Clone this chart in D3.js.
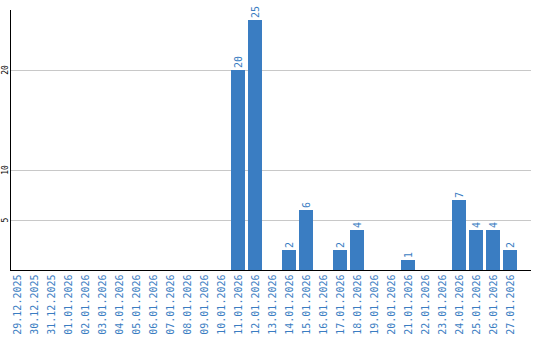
<!DOCTYPE html>
<html><head><meta charset="utf-8">
<script src="https://cdn.jsdelivr.net/npm/d3@7"></script>
<style>body{margin:0;background:#fff}svg{display:block}</style>
</head><body><svg id="c" width="540" height="340"></svg>
<script>
const categories = ["29.12.2025","30.12.2025","31.12.2025","01.01.2026","02.01.2026","03.01.2026","04.01.2026","05.01.2026","06.01.2026","07.01.2026","08.01.2026","09.01.2026","10.01.2026","11.01.2026","12.01.2026","13.01.2026","14.01.2026","15.01.2026","16.01.2026","17.01.2026","18.01.2026","19.01.2026","20.01.2026","21.01.2026","22.01.2026","23.01.2026","24.01.2026","25.01.2026","26.01.2026","27.01.2026"];
const values = [0,0,0,0,0,0,0,0,0,0,0,0,0,20,25,0,2,6,0,2,4,0,0,1,0,0,7,4,4,2];
const yTicks = [5,10,20];

const svg = d3.select("#c");
const blue = "#3a7dc2";
const x = d3.scaleBand().domain(categories).range([8.5,518.5]).paddingInner(3/17).paddingOuter(1.5/17);
const y = d3.scaleLinear().domain([0,26]).range([270,10]);

// gridlines
svg.append("g").selectAll("line").data(yTicks).join("line")
  .attr("x1",11).attr("x2",531).attr("y1",d=>Math.round(y(d))+0.5).attr("y2",d=>Math.round(y(d))+0.5)
  .attr("stroke","#c8c8c8").attr("stroke-width",1);

// bars
const data = categories.map((c,i)=>({c,v:values[i]}));
svg.append("g").selectAll("rect").data(data.filter(d=>d.v>0)).join("rect")
  .attr("x",d=>Math.round(x(d.c))).attr("width",Math.round(x.bandwidth()))
  .attr("y",d=>y(d.v)).attr("height",d=>y(0)-y(d.v)).attr("fill",blue);

// value labels
svg.append("g").selectAll("text").data(data.filter(d=>d.v>0)).join("text")
  .attr("transform",d=>`translate(${Math.round(x(d.c))+x.bandwidth()/2+3.5},${y(d.v)-2}) rotate(-90)`)
  .attr("text-anchor","start").attr("font-family","DejaVu Sans Mono").attr("font-size",10)
  .attr("fill",blue).text(d=>d.v);

// y axis
const ya = d3.axisLeft(y).tickValues(yTicks).tickSize(0).tickFormat(d3.format("d"));
const yg = svg.append("g").attr("transform","translate(10.5,0)").call(ya);
yg.select(".domain").attr("stroke","#000").attr("d","M0,10V270");
yg.selectAll("text").attr("font-family","DejaVu Sans Mono").attr("font-size",8).attr("fill","#000")
  .attr("x",0).attr("dy",0).attr("text-anchor","middle")
  .attr("transform",function(d){return `translate(-3,${y(d)}) rotate(-90)`;}).attr("y",0);
yg.selectAll(".tick").attr("transform",null);

// x axis
const xa = d3.axisBottom(x).tickSize(0);
const xg = svg.append("g").attr("transform","translate(0,270.5)").call(xa);
xg.select(".domain").attr("stroke","#000").attr("d","M10,0H531");
xg.selectAll("text").attr("font-family","DejaVu Sans Mono").attr("font-size",10).attr("fill",blue)
  .attr("text-anchor","end").attr("dy",0).attr("y",0).attr("x",0)
  .attr("transform","translate(3.5,4) rotate(-90)");
</script></body></html>
